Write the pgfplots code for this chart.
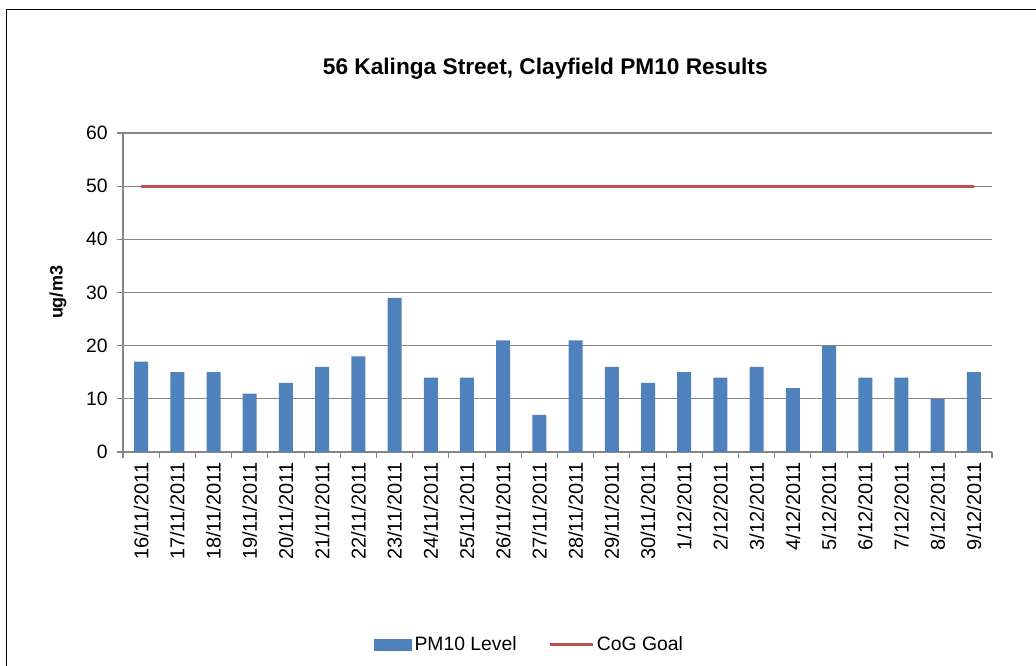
\documentclass[border=0pt]{standalone}
\usepackage{pgfplots}
\pgfplotsset{compat=1.18}
\usepackage{fontspec}
\setmainfont{Liberation Sans}
\definecolor{barblue}{HTML}{4F81BD}
\definecolor{goalred}{HTML}{C0504D}
\definecolor{gridgray}{HTML}{868686}
\begin{document}
\begin{tikzpicture}
\useasboundingbox (0,0) rectangle (777pt,499.5pt);
\draw[line width=1.2pt] (4.875pt,0) -- (4.875pt,492.4pt) -- (777pt,492.4pt);
\begin{axis}[
  at={(92.25pt,160.5pt)}, anchor=south west,
  scale only axis, width=651.75pt, height=239.25pt,
  xmin=-0.5, xmax=23.5, ymin=0, ymax=60,
  ytick={0,10,...,60},
  xtick={-0.5,0.5,...,23.5},
  x tick label as interval,
  xticklabels={16/11/2011,17/11/2011,18/11/2011,19/11/2011,20/11/2011,21/11/2011,22/11/2011,23/11/2011,24/11/2011,25/11/2011,26/11/2011,27/11/2011,28/11/2011,29/11/2011,30/11/2011,1/12/2011,2/12/2011,3/12/2011,4/12/2011,5/12/2011,6/12/2011,7/12/2011,8/12/2011,9/12/2011},
  xticklabel style={rotate=90, anchor=east, font=\fontsize{15}{17}\selectfont},
  yticklabel style={font=\fontsize{14.5}{16}\selectfont, xshift=-3.5pt},
  /pgf/number format/assume math mode=true,
  axis x line*=bottom, axis y line*=left,
  axis line style={draw=gridgray, line width=0.8pt, -},
  tick align=outside, tick pos=left,
  major tick length=4.5pt,
  tick style={draw=gridgray, line width=0.8pt},
  ymajorgrids, grid style={draw=gridgray, line width=0.8pt},
  title={56 Kalinga Street, Clayfield PM10 Results},
  title style={at={(axis description cs:0.486,1.176)}, anchor=center, font=\bfseries\fontsize{17}{20}\selectfont},
  ylabel={ug/m3},
  ylabel style={at={(axis description cs:-0.0748,0.5)}, anchor=center, font=\bfseries\fontsize{13.5}{15}\selectfont},
  legend columns=2,
  legend style={at={(axis description cs:0.468,-0.604)}, anchor=center, draw=none, fill=none,
    font=\fontsize{14.5}{16}\selectfont,
    /tikz/every even column/.append style={column sep=22pt}},
]
\addplot[ybar, bar width=10.5pt, bar shift=0pt, fill=barblue, draw=none,
  legend image code/.code={\fill[barblue] (0pt,-4.5pt) rectangle (28.5pt,4.5pt);}]
  coordinates {(0,17) (1,15) (2,15) (3,11) (4,13) (5,16) (6,18) (7,29) (8,14) (9,14) (10,21) (11,7) (12,21) (13,16) (14,13) (15,15) (16,14) (17,16) (18,12) (19,20) (20,14) (21,14) (22,10) (23,15)};
\addlegendentry{PM10 Level}
\addplot[sharp plot, color=goalred, line width=2.25pt, mark=none,
  legend image code/.code={\draw[goalred, line width=2.25pt] (0pt,0pt) -- (32pt,0pt);}]
  coordinates {(0,50) (23,50)};
\addlegendentry{CoG Goal}
\end{axis}
\end{tikzpicture}
\end{document}
